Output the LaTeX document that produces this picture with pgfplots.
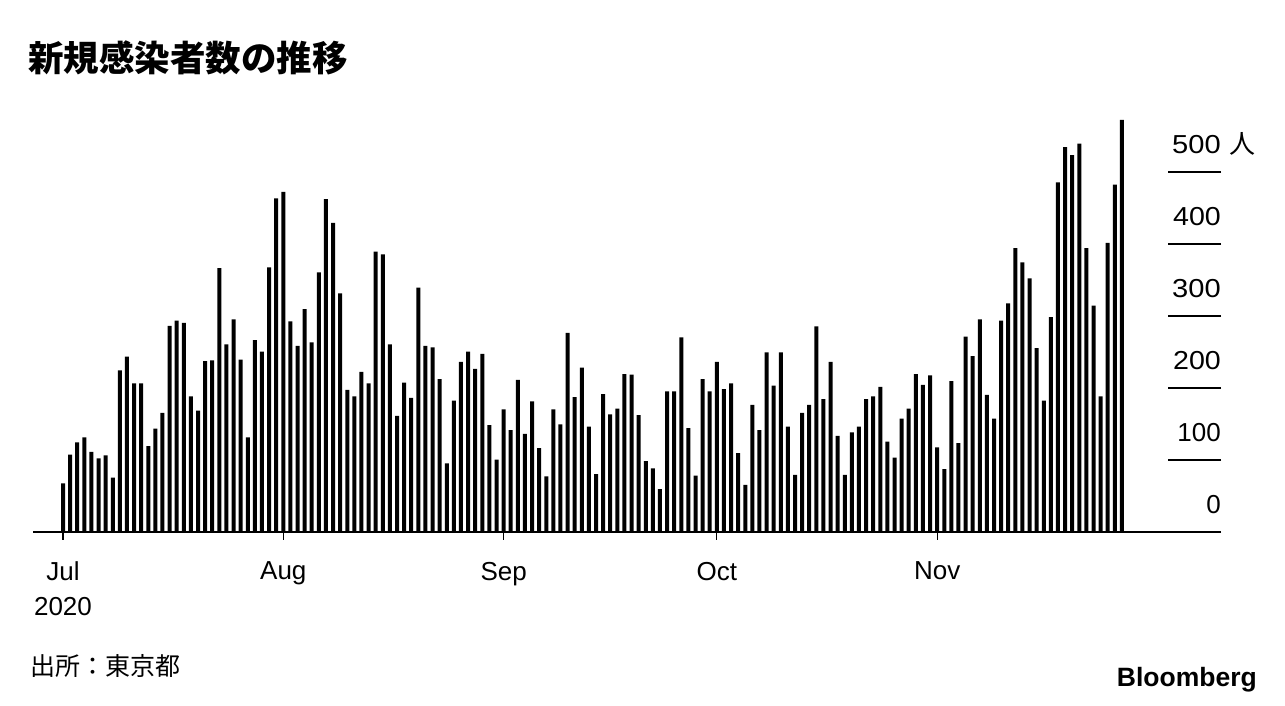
\documentclass[border=0pt]{standalone}
\usepackage{pgfplots}
\usepackage{pgfplotstable}
\pgfplotsset{compat=1.18}
\usepackage{fontspec}
\setmainfont{Liberation Sans}
\newfontfamily\cjk{Noto Sans CJK JP}
\usepackage{graphicx}

% day index (0 = 1 Jul 2020), new cases in Tokyo
\pgfplotstableread{
d v
0 67
1 107
2 124
3 131
4 111
5 102
6 106
7 75
8 224
9 243
10 206
11 206
12 119
13 143
14 165
15 286
16 293
17 290
18 188
19 168
20 237
21 238
22 366
23 260
24 295
25 239
26 131
27 266
28 250
29 367
30 463
31 472
32 292
33 258
34 309
35 263
36 360
37 462
38 429
39 331
40 197
41 188
42 222
43 206
44 389
45 385
46 260
47 161
48 207
49 186
50 339
51 258
52 256
53 212
54 95
55 182
56 236
57 250
58 226
59 247
60 148
61 100
62 170
63 141
64 211
65 136
66 181
67 116
68 77
69 170
70 149
71 276
72 187
73 228
74 146
75 80
76 191
77 163
78 171
79 219
80 218
81 162
82 98
83 88
84 59
85 195
86 195
87 270
88 144
89 78
90 212
91 195
92 236
93 198
94 206
95 109
96 65
97 176
98 141
99 249
100 203
101 249
102 146
103 79
104 165
105 176
106 285
107 184
108 236
109 133
110 79
111 138
112 146
113 184
114 188
115 201
116 125
117 103
118 157
119 171
120 219
121 204
122 217
123 117
124 87
125 209
126 123
127 271
128 244
129 295
130 190
131 157
132 293
133 317
134 394
135 374
136 352
137 255
138 182
139 298
140 485
141 534
142 523
143 539
144 394
145 314
146 188
147 401
148 482
149 572
}\data

\begin{document}
\begin{tikzpicture}
\useasboundingbox (0pt,0pt) rectangle (1285pt,706pt);

\begin{axis}[
  at={(63pt,174.3pt)}, anchor=origin,
  scale only axis, width=1188pt, height=432pt,
  xmin=-4.22, xmax=162.94, ymin=0, ymax=600,
  axis x line*=bottom, axis y line=none,
  x axis line style={line width=2pt, black},
  ybar, bar width=4pt, bar shift=0pt,
  xtick={0,31,62,92,123},
  xticklabels={{Jul\\2020},Aug,Sep,Oct,Nov},
  xticklabel style={align=center, font=\fontsize{26}{35}\selectfont, anchor=north, inner sep=0pt, yshift=-22pt},
  tick align=outside, major tick length=8pt,
  xtick style={line width=1.3pt, black},
  ytick=\empty,
  clip=false,
]
\addplot[fill=black, draw=none] table[x=d, y=v] {\data};
\end{axis}

\begin{axis}[
  at={(63pt,174.3pt)}, anchor=origin,
  scale only axis, width=1188pt, height=432pt,
  xmin=-4.22, xmax=162.94, ymin=0, ymax=600,
  axis x line=none, axis y line*=right,
  y axis line style={draw=none},
  xtick=\empty,
  ytick={0,100,200,300,400,500},
  yticklabels={0,100,\scalebox{1.1}[1]{200},\scalebox{1.12}[1]{300},\scalebox{1.1}[1]{400},{\scalebox{1.12}[1]{500}\rlap{\hspace{9pt}\cjk 人}}},
  yticklabel pos=right,
  tick align=inside, major tick length=53.3pt,
  ytick style={line width=1.8pt, black},
  yticklabel style={anchor=base east, inner sep=0pt, yshift=17.7pt, font=\fontsize{26}{30}\selectfont},
  /pgf/number format/assume math mode=true,
]
\end{axis}

\node[anchor=west, inner sep=0pt] at (28pt,648pt) {\cjk\bfseries\fontsize{35.5}{40}\selectfont 新規感染者数の推移};
\node[anchor=west, inner sep=0pt] at (30pt,40pt) {\cjk\fontsize{25}{30}\selectfont 出所：東京都};
\node[anchor=base east, inner sep=0pt] at (1257pt,19.3pt) {\bfseries\fontsize{26.5}{30}\selectfont Bloomberg};
\end{tikzpicture}
\end{document}
